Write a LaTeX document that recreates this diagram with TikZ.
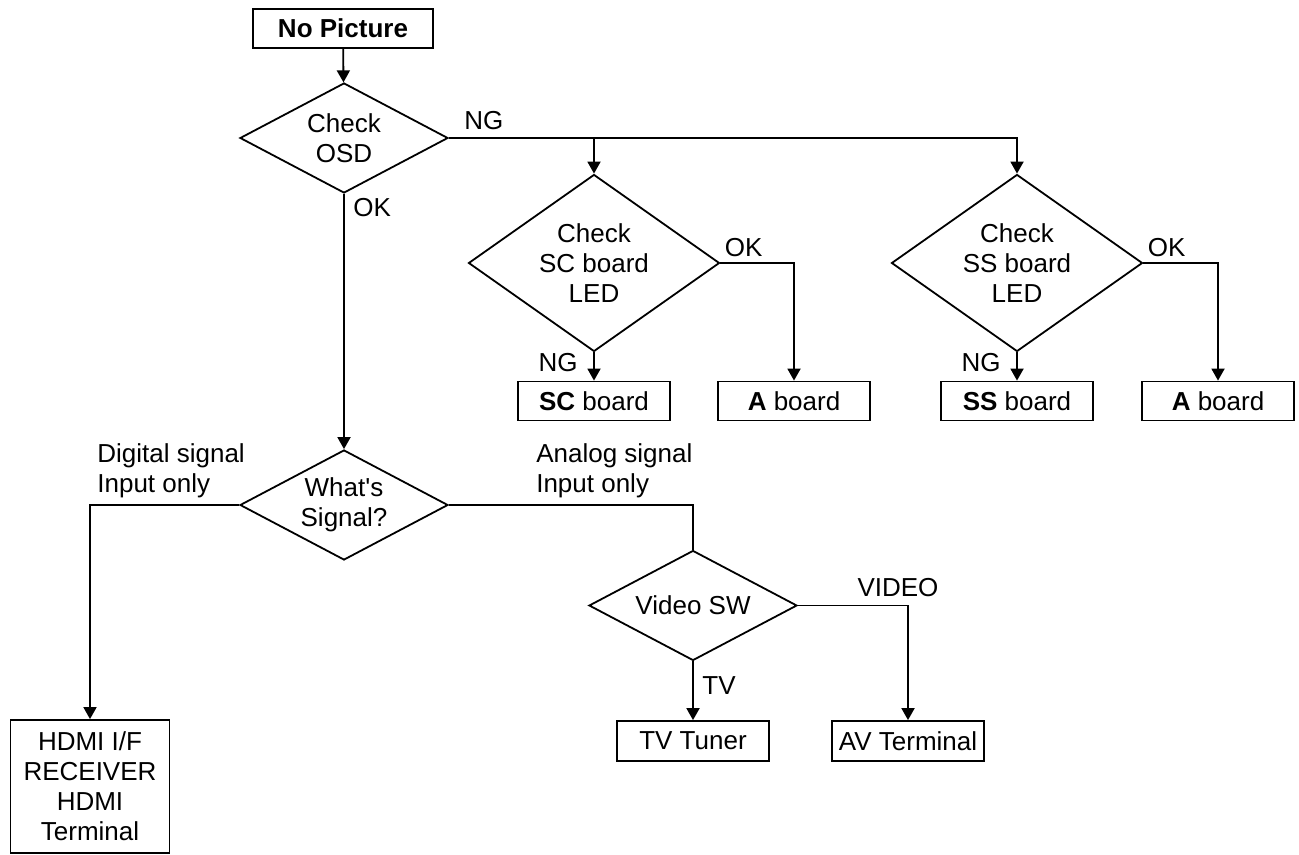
\documentclass[tikz,border=0pt]{standalone}
\usepackage{fontspec}
\setmainfont{Liberation Sans}
\usetikzlibrary{shapes.geometric,arrows.meta}
\tikzset{
    box/.style={
        draw,
        rectangle,
        line width=0.9pt,
        inner sep=1pt,
        align=center,
        minimum width=76pt,
        minimum height=19.5pt
    },
    chk/.style={
        draw,
        diamond,
        aspect=1.9,
        line width=0.9pt,
        inner sep=0pt,
        align=center,
        minimum width=104pt,
        minimum height=55pt
    },
    wire/.style={line width=0.9pt},
    flow/.style={wire,-{Triangle[length=6pt,width=6.5pt]}},
    tag/.style={inner sep=0pt,align=left}
}
\newcommand{\ledcheck}[4] {
    \node[chk,aspect=1.42,minimum width=125.5pt,minimum height=88.5pt] (#1) at (#2, 263) {Check\\#3 board\\LED};
    \node[box] (#1brd) at (#2, 401) {\textbf{#3} board};
    \node[box] (#1a) at (#4, 401) {\textbf{A} board};
    \draw[flow] (#1.south) -- (#1brd);
    \draw[flow] (#1.east) -| (#1a);
    \node[tag,anchor=south west] (#1ok) at ([xshift=2pt,yshift=3pt]#1.east) {OK};
    \node[tag,anchor=north east] (#1ng) at ([xshift=-8pt,yshift=-0.5pt]#1.south) {NG};
}

\begin{document}
\begin{tikzpicture}[x={(0.5pt,0pt)},y={(0pt,-0.5pt)},font=\fontsize{13}{15}\selectfont]
    \useasboundingbox (0,0) rectangle (1299,855);
    % start
    \node[box,minimum width=90pt] (pic) at (343, 28.5) {\textbf{No Picture}};
    \node[chk] (osd) at (344, 138) {Check\\OSD};
    \draw[flow] (pic) -- (osd);
    % NG branch
    \ledcheck{sc}{594}{SC}{794}
    \ledcheck{ss}{1017}{SS}{1218}
    \draw[flow] (osd.east) -| (ss.north);
    \draw[flow] (osd.east -| sc.north) -- (sc.north);
    \node[tag,anchor=south west] (osdng) at ([xshift=7.5pt,yshift=4pt]osd.east) {NG};
    % OK branch
    \node[chk] (sig) at (344, 505) {What\textquotesingle s\\Signal?};
    \draw[flow] (osd.south) -- (sig.north);
    \node[tag,anchor=north west] (osdok) at ([xshift=4.5pt,yshift=-2pt]osd.south) {OK};
    % digital
    \node[box,minimum width=79.5pt,minimum height=66.5pt] (hdmi) at (90, 786.5) {HDMI I/F\\RECEIVER\\HDMI\\Terminal};
    \coordinate (dturn) at (sig.west -| hdmi.north);
    \draw[flow] (sig.west) -| (hdmi.north);
    \node[tag,anchor=south west] (dig) at ([xshift=3.5pt,yshift=3.3pt]dturn) {Digital signal\\Input only};
    % analog
    \node[chk] (vsw) at (693, 605.5) {Video SW};
    \draw[wire] (sig.east) -| (vsw.north);
    \node[tag,anchor=south west] (ana) at ([xshift=43.5pt,yshift=3.3pt]sig.east) {Analog signal\\Input only};
    \node[box,minimum height=20pt] (tuner) at (693, 741) {TV Tuner};
    \node[box,minimum height=20pt] (avt) at (908, 741) {AV Terminal};
    \coordinate (vturn) at (vsw.east -| avt.north);
    \draw[flow] (vsw.south) -- (tuner);
    \draw[flow] (vsw.east) -| (avt.north);
    \node[tag,anchor=north west] (tv) at ([xshift=4.5pt,yshift=-7.5pt]vsw.south) {TV};
    \node[tag,anchor=south] (video) at ([xshift=-5pt,yshift=4.25pt]vturn) {VIDEO};
\end{tikzpicture}
\end{document}
